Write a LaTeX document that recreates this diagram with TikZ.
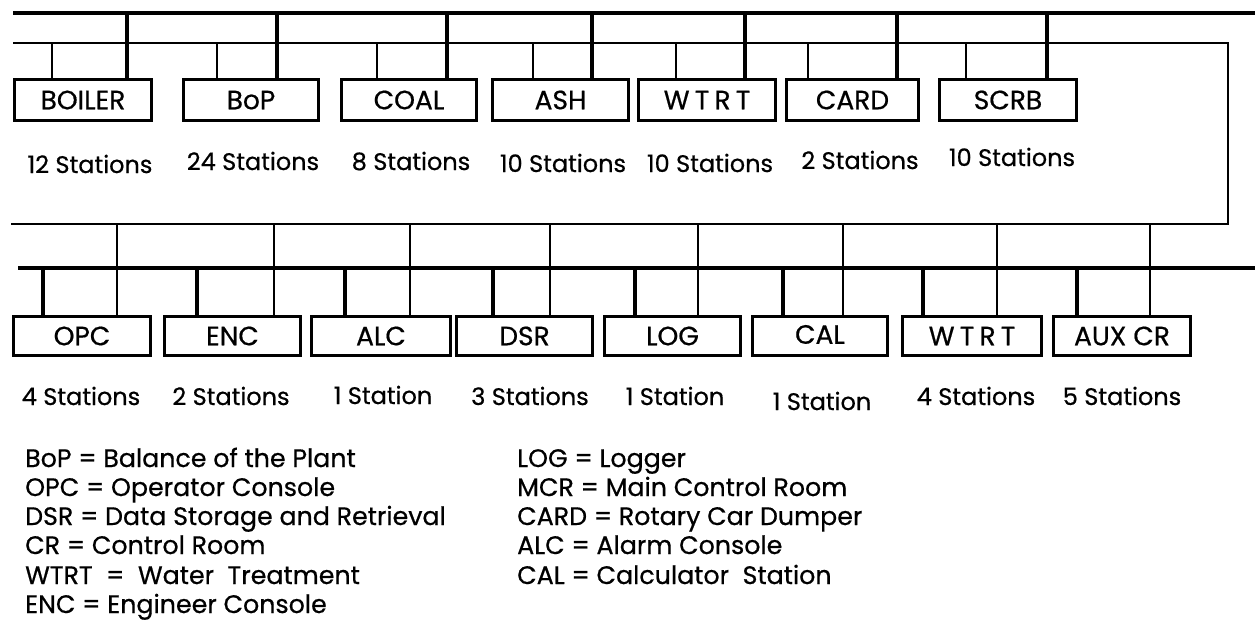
\documentclass[tikz,border=0pt]{standalone}
\usepackage{fontspec}
\setmainfont{Poppins}[FakeBold=0.6]
\begin{document}
\begin{tikzpicture}[x=1pt,y=-1pt,
  line join=miter,
  thickbus/.style={line width=4.8pt},
  thinbus/.style={line width=2.8pt},
  thickdrop/.style={line width=4.8pt},
  thindrop/.style={line width=2.8pt},
  box/.style={draw, line width=2.8pt, rectangle, inner sep=0pt,
    text height=18.5pt, text depth=0pt, font=\fontsize{26.5}{30}\selectfont},
  ubox/.style={box, minimum height=41.2pt},
  lbox/.style={box, minimum height=39.2pt},
  cnt/.style={anchor=base, inner sep=0pt, font=\fontsize{24}{28}\selectfont},
  leg/.style={anchor=base west, inner sep=0pt, font=\fontsize{25.3}{29}\selectfont}]
\useasboundingbox (0,0) rectangle (1255,624);

% ---------- upper boxes ----------
\node[ubox, minimum width=137.2pt] (b1) at (83,100)    {BOILER};
\node[ubox, minimum width=135.2pt] (b2) at (251,100)   {BoP};
\node[ubox, minimum width=135.2pt] (b3) at (409,100)   {COAL};
\node[ubox, minimum width=136.2pt] (b4) at (560.5,100) {ASH};
\node[ubox, minimum width=137.2pt] (b5) at (707,100)   {\addfontfeatures{LetterSpace=20}WTRT};
\node[ubox, minimum width=132.2pt] (b6) at (852.5,100) {CARD};
\node[ubox, minimum width=137.2pt] (b7) at (1008,100)  {SCRB};

% ---------- lower boxes ----------
\node[lbox, minimum width=137.2pt] (c1) at (82,336)    {OPC};
\node[lbox, minimum width=136.2pt] (c2) at (232.5,336) {ENC};
\node[lbox, minimum width=139.2pt] (c3) at (381,336)   {ALC};
\node[lbox, minimum width=136.2pt] (c4) at (524.5,336) {DSR};
\node[lbox, minimum width=136.2pt] (c5) at (672.5,336) {LOG};
\node[lbox, minimum width=135.2pt, text height=15.5pt] (c6) at (820,336) {CAL};
\node[lbox, minimum width=139.2pt] (c7) at (972,336)   {\addfontfeatures{LetterSpace=20}WTRT};
\node[lbox, minimum width=137.2pt] (c8) at (1122,336)  {AUX CR};

% ---------- bus coordinates ----------
\coordinate (topL) at (13,13);
\coordinate (topR) at (1255,13);
\coordinate (ringA) at (13,43);
\coordinate (ringB) at (1228,43);
\coordinate (ringC) at (1228,224);
\coordinate (ringD) at (11,224);
\coordinate (lowL) at (18,268);
\coordinate (lowR) at (1255,268);

\draw[thickbus] (topL) -- (topR);
\draw[thinbus] (ringA) -- (ringB) -- (ringC) -- (ringD);
\draw[thickbus] (lowL) -- (lowR);

% ---------- upper drops ----------
\foreach \x/\b in {127/b1,277/b2,447/b3,592/b4,745/b5,897/b6,1047/b7}{
  \coordinate (t\b) at (\x,13);
  \draw[thickdrop] (t\b) -- (\b.north -| t\b);
}
\foreach \x/\b in {52/b1,217/b2,377/b3,533/b4,676/b5,808/b6,966/b7}{
  \coordinate (r\b) at (\x,43);
  \draw[thindrop] (r\b) -- (\b.north -| r\b);
}

% ---------- lower drops ----------
\foreach \x/\b in {117/c1,274/c2,410/c3,550/c4,698/c5,843/c6,997/c7,1150/c8}{
  \coordinate (r\b) at (\x,224);
  \draw[thindrop] (r\b) -- (\b.north -| r\b);
}
\foreach \x/\b in {43/c1,197/c2,345/c3,493/c4,635/c5,783/c6,923/c7,1077/c8}{
  \coordinate (t\b) at (\x,268);
  \draw[thickdrop] (t\b) -- (\b.north -| t\b);
}

% ---------- station counts ----------
\node[cnt] (s1) at (90,173)   {12 Stations};
\node[cnt] (s2) at (253,170)  {24 Stations};
\node[cnt] (s3) at (411,170)  {8 Stations};
\node[cnt] (s4) at (563,172)  {10 Stations};
\node[cnt] (s5) at (710,172)  {10 Stations};
\node[cnt] (s6) at (860,169)  {2 Stations};
\node[cnt] (s7) at (1012,166) {10 Stations};

\node[cnt] (u1) at (81,405)   {4 Stations};
\node[cnt] (u2) at (231,405)  {2 Stations};
\node[cnt] (u3) at (383,404)  {1 Station};
\node[cnt] (u4) at (530,405)  {3 Stations};
\node[cnt] (u5) at (675,405)  {1 Station};
\node[cnt] (u6) at (822,410)  {1 Station};
\node[cnt] (u7) at (976,405)  {4 Stations};
\node[cnt] (u8) at (1122,405) {5 Stations};

% ---------- legend ----------
\node[leg] (l1) at (25,467) {BoP = Balance of the Plant};
\node[leg] (l2) at (25,496) {OPC = Operator Console};
\node[leg] (l3) at (25,525) {DSR = Data Storage and Retrieval};
\node[leg] (l4) at (25,554) {CR = Control Room};
\node[leg] (l5) at (25,584) {WTRT\ \ =\ \ Water\ \ Treatment};
\node[leg] (l6) at (25,613) {ENC = Engineer Console};

\node[leg] (m1) at (517,467) {LOG = Logger};
\node[leg] (m2) at (517,496) {MCR = Main Control Room};
\node[leg] (m3) at (517,525) {CARD = Rotary Car Dumper};
\node[leg] (m4) at (517,554) {ALC = Alarm Console};
\node[leg] (m5) at (517,584) {CAL = Calculator\ \ Station};
\end{tikzpicture}
\end{document}
